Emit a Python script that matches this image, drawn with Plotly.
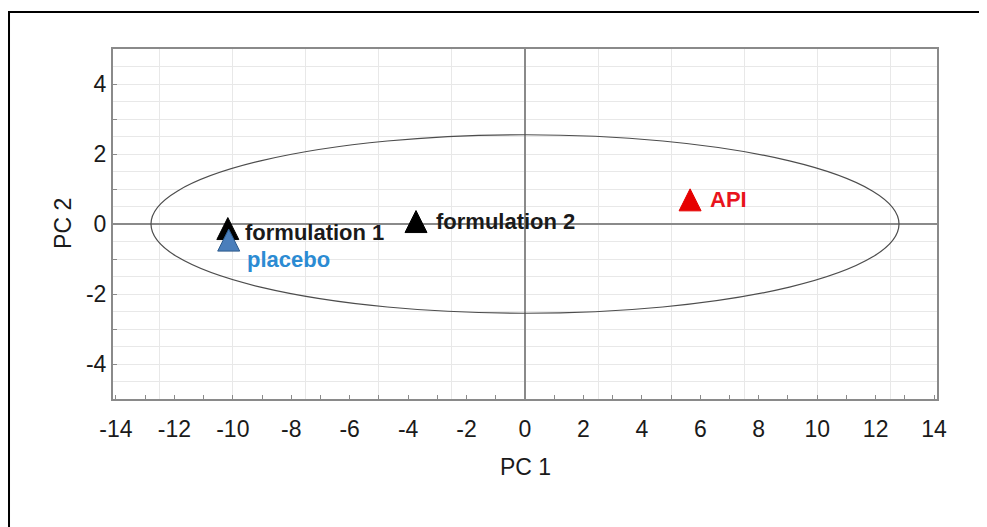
import plotly.graph_objects as go

# ---- data ----
names = ["formulation 1", "placebo", "formulation 2", "API"]
pc1 = [-10.17, -10.14, -3.73, 5.65]
pc2 = [-0.13, -0.46, 0.07, 0.69]
marker_colors = ["#000000", "#4a7ebb", "#000000", "#e60000"]
marker_lines = ["#000000", "#2c5a8c", "#000000", "#e60000"]
label_colors = ["#1a1a1a", "#2b8bd3", "#1a1a1a", "#e8141c"]

ellipse_center = (0.0, 0.0)
ellipse_radii = (12.8, 2.55)

x_range = [-14.1, 14.1]
y_range = [-5, 5]
x_ticks = list(range(-14, 15, 2))
x_ticktext = [str(v) for v in x_ticks]
y_ticks = [-4, -2, 0, 2, 4]
y_ticktext = [str(v) for v in y_ticks]

FONT = "Liberation Sans, Arial, sans-serif"

fig = go.Figure()

# invisible trace to create the overlay (grid) subplot
fig.add_trace(go.Scatter(x=[x_range[0]], y=[y_range[0]], xaxis="x2", yaxis="y2",
                         mode="markers", marker=dict(opacity=0), showlegend=False,
                         hoverinfo="skip"))

for n, x, y, c, lc in zip(names, pc1, pc2, marker_colors, marker_lines):
    fig.add_trace(go.Scatter(
        x=[x], y=[y], mode="markers", name=n, showlegend=False,
        marker=dict(symbol="arrow-down", angle=180, size=22, standoff=11,
                    color=c, line=dict(color=lc, width=1)),
    ))

# label offsets in px (placement only)
label_shift = {
    "formulation 1": (15, -4),
    "placebo": (16, -19),
    "formulation 2": (18, 0),
    "API": (18, 0),
}
for n, x, y, tc in zip(names, pc1, pc2, label_colors):
    dx, dy = label_shift[n]
    fig.add_annotation(x=x, y=y, text=n, showarrow=False, xanchor="left",
                       yanchor="middle", xshift=dx, yshift=dy,
                       font=dict(family=FONT, size=22, color=tc, weight="bold"))

# confidence ellipse
cx, cy = ellipse_center
rx, ry = ellipse_radii
fig.add_shape(type="circle", xref="x", yref="y", x0=cx - rx, x1=cx + rx,
              y0=cy - ry, y1=cy + ry, line=dict(color="#4d4d4d", width=1.2),
              layer="above")

# outer frame (left and top edges of the figure box)
fig.add_shape(type="path", xref="paper", yref="paper",
              path="M -0.1262,-0.6 L -0.1262,1.1057 L 1.2,1.1057",
              line=dict(color="#000000", width=2))

# axis titles
fig.add_annotation(xref="paper", yref="paper", x=0.5, y=-0.194, text="PC 1",
                   showarrow=False, xanchor="center", yanchor="middle",
                   font=dict(family=FONT, size=23, color="#1a1a1a"))
fig.add_annotation(xref="paper", yref="paper", x=-0.0607, y=0.503, text="PC 2",
                   showarrow=False, xanchor="center", yanchor="middle", textangle=-90,
                   font=dict(family=FONT, size=23, color="#1a1a1a"))

axis_common = dict(showgrid=False, zeroline=True, zerolinecolor="#8a8a8a",
                   zerolinewidth=2, showline=True, linecolor="#8a8a8a", linewidth=2,
                   mirror=True, ticks="inside", ticklen=4, tickcolor="#8a8a8a",
                   tickfont=dict(family=FONT, size=23, color="#1a1a1a"))

fig.update_layout(
    width=979, height=519,
    margin=dict(l=105, r=50, t=41, b=128),
    paper_bgcolor="white", plot_bgcolor="white",
    xaxis=dict(range=x_range, tickmode="array", tickvals=x_ticks, ticktext=x_ticktext,
               ticklabelstandoff=8,
               minor=dict(dtick=1, ticks="inside", ticklen=4, tickcolor="#8a8a8a",
                          showgrid=False),
               **axis_common),
    yaxis=dict(range=y_range, tickmode="array", tickvals=y_ticks, ticktext=y_ticktext,
               minor=dict(dtick=1, ticks="inside", ticklen=4, tickcolor="#8a8a8a",
                          showgrid=False),
               **axis_common),
    xaxis2=dict(overlaying="x", range=x_range, dtick=2.5, tick0=0, showgrid=True,
                gridcolor="#e8e8e8", gridwidth=1, showticklabels=False, ticks="",
                zeroline=False, showline=False),
    yaxis2=dict(overlaying="y", range=y_range, dtick=0.5, tick0=0, showgrid=True,
                gridcolor="#e8e8e8", gridwidth=1, showticklabels=False, ticks="",
                zeroline=False, showline=False),
)

fig.write_html("out.html")
